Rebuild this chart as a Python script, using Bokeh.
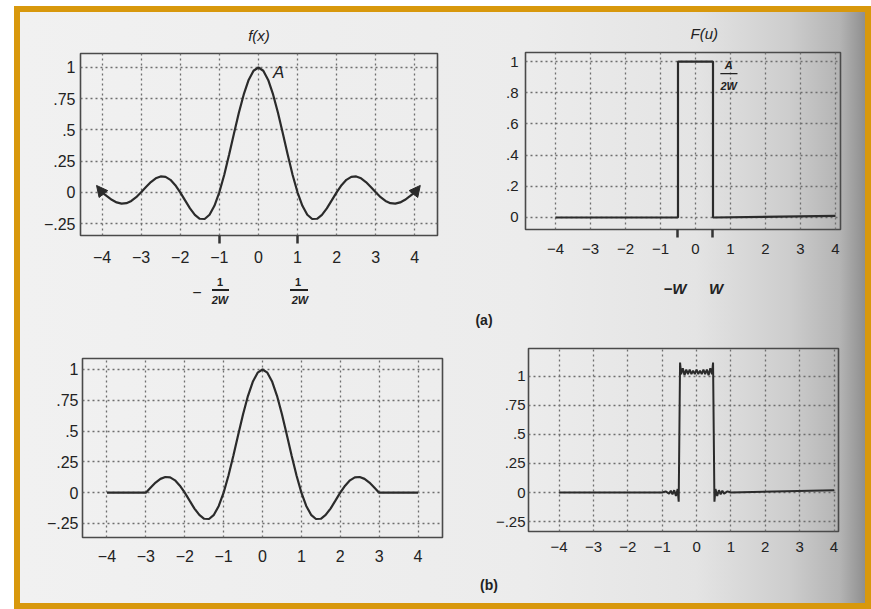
from bokeh.plotting import figure
from bokeh.layouts import row, column
from bokeh.models import FixedTicker, Label, Arrow, NormalHead, Range1d, Div
from bokeh.embed import file_html
from bokeh.resources import INLINE

# ---------------- data ----------------
sinc_x = [-4.0, -3.875, -3.75, -3.625, -3.5, -3.375, -3.25, -3.125, -3.0,
          -2.875, -2.75, -2.625, -2.5, -2.375, -2.25, -2.125, -2.0,
          -1.875, -1.75, -1.625, -1.5, -1.375, -1.25, -1.125, -1.0,
          -0.875, -0.75, -0.625, -0.5, -0.375, -0.25, -0.125, 0.0,
          0.125, 0.25, 0.375, 0.5, 0.625, 0.75, 0.875, 1.0,
          1.125, 1.25, 1.375, 1.5, 1.625, 1.75, 1.875, 2.0,
          2.125, 2.25, 2.375, 2.5, 2.625, 2.75, 2.875, 3.0,
          3.125, 3.25, 3.375, 3.5, 3.625, 3.75, 3.875, 4.0]
sinc_y = [0.0, -0.031, -0.060, -0.081, -0.091, -0.087, -0.069, -0.039, 0.0,
          0.042, 0.082, 0.112, 0.127, 0.124, 0.100, 0.057, 0.0,
          -0.065, -0.129, -0.181, -0.212, -0.214, -0.180, -0.108, 0.0,
          0.139, 0.300, 0.471, 0.637, 0.784, 0.900, 0.974, 1.0,
          0.974, 0.900, 0.784, 0.637, 0.471, 0.300, 0.139, 0.0,
          -0.108, -0.180, -0.214, -0.212, -0.181, -0.129, -0.065, 0.0,
          0.057, 0.100, 0.124, 0.127, 0.112, 0.082, 0.042, 0.0,
          -0.039, -0.069, -0.087, -0.091, -0.081, -0.060, -0.031, 0.0]

win_x = [-4.0, -3.0,
         -2.875, -2.75, -2.625, -2.5, -2.375, -2.25, -2.125, -2.0,
         -1.875, -1.75, -1.625, -1.5, -1.375, -1.25, -1.125, -1.0,
         -0.875, -0.75, -0.625, -0.5, -0.375, -0.25, -0.125, 0.0,
         0.125, 0.25, 0.375, 0.5, 0.625, 0.75, 0.875, 1.0,
         1.125, 1.25, 1.375, 1.5, 1.625, 1.75, 1.875, 2.0,
         2.125, 2.25, 2.375, 2.5, 2.625, 2.75, 2.875,
         3.0, 4.0]
win_y = [0.0, 0.0,
         0.042, 0.082, 0.112, 0.127, 0.124, 0.100, 0.057, 0.0,
         -0.065, -0.129, -0.181, -0.212, -0.214, -0.180, -0.108, 0.0,
         0.139, 0.300, 0.471, 0.637, 0.784, 0.900, 0.974, 1.0,
         0.974, 0.900, 0.784, 0.637, 0.471, 0.300, 0.139, 0.0,
         -0.108, -0.180, -0.214, -0.212, -0.181, -0.129, -0.065, 0.0,
         0.057, 0.100, 0.124, 0.127, 0.112, 0.082, 0.042,
         0.0, 0.0]

box_x = [-4.0, -0.5, -0.5, 0.5, 0.5, 4.0]
box_y = [0.0, 0.0, 1.0, 1.0, 0.0, 0.01]

gibbs_x = [-4.0, -1.0, -0.9, -0.8, -0.75, -0.7, -0.65, -0.6, -0.55, -0.52,
           -0.48, -0.45, -0.4, -0.35, -0.3, -0.25, -0.2, -0.15, -0.1, -0.05,
           0.0, 0.05, 0.1, 0.15, 0.2, 0.25, 0.3, 0.35, 0.4, 0.45,
           0.48, 0.52, 0.55, 0.6, 0.65, 0.7, 0.75, 0.8, 0.9, 1.0, 4.0]
gibbs_y = [0.0, 0.0, 0.01, -0.01, 0.015, -0.015, 0.02, -0.03, 0.03, -0.08,
           1.12, 1.02, 1.07, 1.01, 1.06, 1.02, 1.06, 1.02, 1.05, 1.02,
           1.06, 1.02, 1.05, 1.02, 1.06, 1.02, 1.06, 1.01, 1.07, 1.02,
           1.12, -0.08, 0.03, -0.03, 0.02, -0.015, 0.015, -0.01, 0.01, 0.0, 0.02]

x_ticks = [-4, -3, -2, -1, 0, 1, 2, 3, 4]
x_tick_labels = ["\u22124", "\u22123", "\u22122", "\u22121", "0", "1", "2", "3", "4"]
y_ticks_a = [-0.25, 0, 0.25, 0.5, 0.75, 1]
y_tick_labels_a = ["\u2212.25", "0", ".25", ".5", ".75", "1"]
y_ticks_b = [0, 0.2, 0.4, 0.6, 0.8, 1]
y_tick_labels_b = ["0", ".2", ".4", ".6", ".8", "1"]

FONT = "Liberation Sans"
INK = "#2b2b2b"
TXT = "#222222"


def make_fig(w, h, l, r, t, b, xr, yr, yt, ytl, minor, xs, ys, fs="16px"):
    p = figure(width=w, height=h, x_range=Range1d(*xr), y_range=Range1d(*yr),
               min_border_left=l, min_border_right=r, min_border_top=t,
               min_border_bottom=b, output_backend="svg", toolbar_location=None,
               background_fill_alpha=0, border_fill_alpha=0,
               outline_line_color="#4a4a4a", outline_line_width=1.6)
    p.xaxis.ticker = FixedTicker(ticks=x_ticks, minor_ticks=minor)
    p.yaxis.ticker = FixedTicker(ticks=yt, minor_ticks=[])
    p.xaxis.major_label_overrides = dict(zip(x_ticks, x_tick_labels))
    p.yaxis.major_label_overrides = dict(zip(yt, ytl))
    for ax in (p.xaxis[0], p.yaxis[0]):
        ax.axis_line_color = None
        ax.major_tick_line_color = None
        ax.major_tick_out = 0
        ax.major_tick_in = 0
        ax.major_label_text_font = FONT
        ax.major_label_text_font_size = fs
        ax.major_label_text_color = TXT
    p.yaxis.minor_tick_line_color = None
    if minor:
        p.xaxis.minor_tick_line_color = "#333333"
        p.xaxis.minor_tick_line_width = 2.5
        p.xaxis.minor_tick_out = 8
        p.xaxis.minor_tick_in = 0
    else:
        p.xaxis.minor_tick_line_color = None
    p.xaxis.major_label_standoff = xs
    p.yaxis.major_label_standoff = ys
    for g in (p.xgrid[0], p.ygrid[0]):
        g.grid_line_color = "#6e6e6e"
        g.grid_line_dash = "2 3"
        g.grid_line_width = 1.3
    return p


def set_title(p, text, align, offset, standoff):
    p.title.text = text
    p.title.align = align
    p.title.offset = offset
    p.title.text_font = FONT
    p.title.text_font_size = "15px"
    p.title.text_font_style = "italic"
    p.title.text_color = TXT
    p.title.standoff = standoff


def lbl(p, x, y, text, size="15px", style="normal", align="center"):
    p.add_layout(Label(x=x, y=y, text=text, text_font=FONT, text_font_size=size,
                       text_font_style=style, text_color=TXT,
                       text_align=align, text_baseline="middle"))


def bar(p, x0, x1, y, w=1.6):
    p.add_layout(Arrow(start=None, end=None, x_start=x0, y_start=y, x_end=x1,
                       y_end=y, line_color=TXT, line_width=w))


def text_strip(w, h, items, bars=()):
    # items: (x, y, text, size, italic, bold) centred at x, y (pixels from top-left)
    parts = []
    for x, y, t, size, it, bd in items:
        parts.append(
            f'<span style="position:absolute;left:{x}px;top:{y}px;'
            f'transform:translate(-50%,-50%);white-space:nowrap;'
            f'font-family:\'{FONT}\';font-size:{size}px;color:{TXT};'
            f'font-style:{"italic" if it else "normal"};'
            f'font-weight:{"bold" if bd else "normal"};line-height:1">{t}</span>')
    for x0, x1, y in bars:
        parts.append(
            f'<span style="position:absolute;left:{x0}px;top:{y}px;width:{x1 - x0}px;'
            f'height:1.6px;background:{TXT}"></span>')
    html = (f'<div style="position:relative;width:{w}px;height:{h}px;margin:0;'
            f'padding:0;overflow:visible">' + "".join(parts) + '</div>')
    return Div(text=html, width=w, height=h, margin=0)


# ---------------- top left: f(x) ----------------
p1 = make_fig(440, 257, 60, 23, 41, 34, (-4.55, 4.58), (-0.346, 1.112),
              y_ticks_a, y_tick_labels_a, [-1, 1], 7, 5)
set_title(p1, "f(x)", "center", 0, 20)
p1.line(sinc_x, sinc_y, line_color=INK, line_width=2.2)
for xs0, xe in ((-4.0, -4.14), (4.0, 4.14)):
    p1.add_layout(Arrow(end=NormalHead(size=11, fill_color=INK, line_color=INK),
                        x_start=xs0, y_start=0.0, x_end=xe, y_end=0.055,
                        line_color=INK, line_width=2.2))
lbl(p1, 0.52, 0.96, "A", "17px", "italic")

s1 = text_strip(440, 61, [
    (177, 24, "\u2212", 16, False, False),
    (200, 13, "1", 11, False, True),
    (200, 31, "2W", 11, True, True),
    (278, 13, "1", 11, False, True),
    (280, 31, "2W", 11, True, True),
], bars=[(192, 209, 20), (270, 288, 20)])

# ---------------- top right: F(u) ----------------
p2 = make_fig(405, 251, 65, 25, 40, 34, (-4.857, 4.143), (-0.077, 1.058),
              y_ticks_b, y_tick_labels_b, [-0.5, 0.5], 6, 7, "15px")
set_title(p2, "F(u)", "left", 165, 21)
p2.line(box_x, box_y, line_color=INK, line_width=2.2)
lbl(p2, 0.95, 0.975, "A", "11px", "bold italic")
bar(p2, 0.71, 1.2, 0.923, 1.3)
lbl(p2, 0.95, 0.846, "2W", "11px", "bold italic")

s2 = text_strip(405, 67, [
    (215, 25, "\u2212W", 15, True, True),
    (256, 25, "W", 15, True, True),
    (24, 57, "(a)", 14, False, True),
])

# ---------------- bottom left: windowed sinc ----------------
p3 = make_fig(440, 273, 62, 18, 28, 66, (-4.63, 4.63), (-0.364, 1.089),
              y_ticks_a, y_tick_labels_a, [], 12, 4)
p3.line(win_x, win_y, line_color=INK, line_width=2.2)

# ---------------- bottom right: ringing spectrum ----------------
p4 = make_fig(405, 231, 68, 27, 18, 30, (-4.89, 4.13), (-0.336, 1.241),
              y_ticks_a, y_tick_labels_a, [], 10, 3, "15px")
p4.line(gibbs_x, gibbs_y, line_color=INK, line_width=2.0)

s4 = text_strip(405, 42, [(29, 24, "(b)", 14, False, True)])

layout = column(
    row(column(p1, s1), column(p2, s2)),
    row(p3, column(p4, s4)),
    styles={
        "border": "6px solid #d8980c",
        "background": "linear-gradient(to right, #f1f1f1 0%, #ececec 60%, #e4e4e4 80%, #cdcdcd 91%, #b4b4b4 97%, #8f8f8f 100%)",
        "margin-left": "14px",
        "margin-top": "6px",
        "margin-bottom": "-8px",
    },
)

open("out.html", "w").write(file_html(layout, INLINE))
